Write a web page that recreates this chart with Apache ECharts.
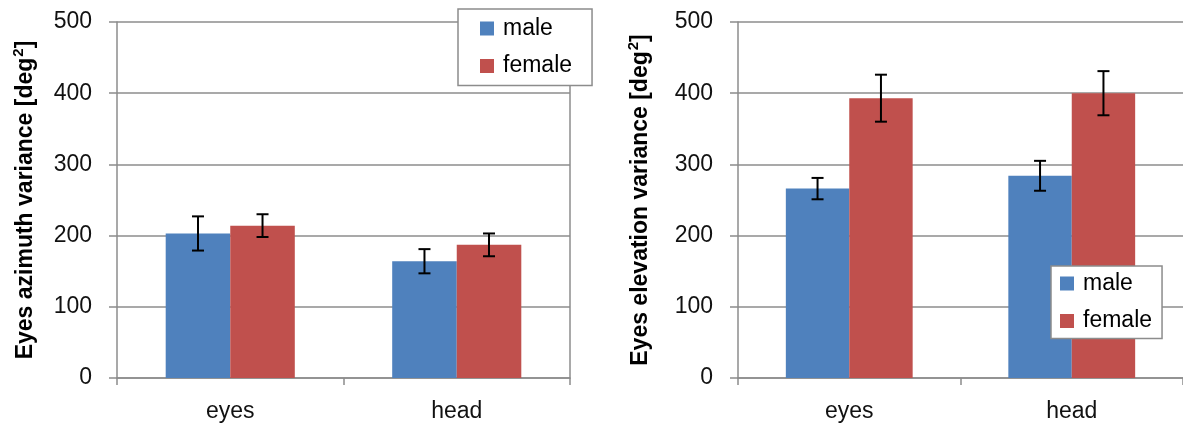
<!DOCTYPE html>
<html>
<head>
<meta charset="utf-8">
<script src="https://cdn.jsdelivr.net/npm/echarts@6/dist/echarts.min.js"></script>
<style>
  html, body { margin: 0; padding: 0; background: #fff; }
  #chart { width: 1183px; height: 427px; }
</style>
</head>
<body>
<div id="chart"></div>
<script>
// Categories and tick range shared by both panels
const categories = ['eyes', 'head'];
const yMin = 0, yMax = 500, yStep = 100;

// Azimuth variance (deg²), mean and error half-width
const azimuthMale = [203, 164];
const azimuthMaleErr = [24, 17];
const azimuthFemale = [214, 187];
const azimuthFemaleErr = [16, 16];

// Elevation variance (deg²), mean and error half-width
const elevationMale = [266, 284];
const elevationMaleErr = [15, 21];
const elevationFemale = [393, 400];
const elevationFemaleErr = [33, 31];

// Axis titles, with the unit's exponent set as a superscript
const leftTitle = '{t|Eyes azimuth variance [deg}{sup|2}{t|]}';
const rightTitle = '{t|Eyes elevation variance [deg}{sup|2}{t|]}';

const BLUE = '#4F81BD';
const RED = '#C0504D';
const GRID_GRAY = '#8c8c8c';
const FONT = '"Liberation Sans", Arial, sans-serif';
const CAT_GAP = 0.43;

const chart = echarts.init(document.getElementById('chart'), null, { renderer: 'canvas' });

function yAxisFor(gridIndex, title, gap) {
  return {
    type: 'value', gridIndex, min: yMin, max: yMax, interval: yStep,
    name: title, nameLocation: 'middle', nameRotate: 90, nameGap: gap,
    nameTextStyle: {
      fontFamily: FONT, fontSize: 23, fontWeight: 'bold', color: '#000',
      rich: {
        t: { fontFamily: FONT, fontSize: 23, fontWeight: 'bold', color: '#000', lineHeight: 26, verticalAlign: 'bottom' },
        sup: { fontFamily: FONT, fontSize: 15, fontWeight: 'bold', color: '#000', lineHeight: 26, verticalAlign: 'top', padding: [0, 0, 0, 1] }
      }
    },
    axisLine: { show: true, lineStyle: { color: GRID_GRAY, width: 1.5 } },
    axisTick: { show: true, length: 8, lineStyle: { color: GRID_GRAY, width: 1.5 } },
    axisLabel: { margin: 25, fontFamily: FONT, fontSize: 23, color: '#111' },
    splitLine: { show: true, lineStyle: { color: GRID_GRAY, width: 1.5 } }
  };
}

function xAxisFor(gridIndex) {
  return {
    type: 'category', gridIndex, data: categories, boundaryGap: true,
    axisLine: { show: true, lineStyle: { color: GRID_GRAY, width: 1.5 } },
    axisTick: { show: true, length: 7, alignWithLabel: false, lineStyle: { color: GRID_GRAY, width: 1.5 } },
    axisLabel: { margin: 22, fontFamily: FONT, fontSize: 23, color: '#111' }
  };
}

// Error bars drawn at the centre of each bar of a two-bar group
function errorSeries(name, axisIdx, means, errs, side) {
  return {
    type: 'custom', name, xAxisIndex: axisIdx, yAxisIndex: axisIdx, z: 10,
    data: means.map((m, i) => [i, m, errs[i]]),
    renderItem(params, api) {
      const band = api.size([1, 0])[0];
      const barW = band * (1 - CAT_GAP) / 2;
      const c = api.coord([api.value(0), api.value(1)]);
      const x = c[0] + side * barW / 2;
      const top = api.coord([api.value(0), api.value(1) + api.value(2)])[1];
      const bot = api.coord([api.value(0), api.value(1) - api.value(2)])[1];
      const cap = 6;
      const style = { stroke: '#000', lineWidth: 2, fill: null };
      return {
        type: 'group',
        children: [
          { type: 'line', shape: { x1: x, y1: top, x2: x, y2: bot }, style },
          { type: 'line', shape: { x1: x - cap, y1: top, x2: x + cap, y2: top }, style },
          { type: 'line', shape: { x1: x - cap, y1: bot, x2: x + cap, y2: bot }, style }
        ]
      };
    }
  };
}

function barSeries(name, axisIdx, values, color) {
  return {
    type: 'bar', name, xAxisIndex: axisIdx, yAxisIndex: axisIdx,
    data: values, barGap: '0%', barCategoryGap: (CAT_GAP * 100) + '%',
    itemStyle: { color }
  };
}

function legendAt(left, top, padding) {
  return {
    orient: 'vertical', left, top, padding,
    itemWidth: 14, itemHeight: 14, itemGap: 14.5,
    icon: 'rect',
    backgroundColor: '#fff', borderColor: GRID_GRAY, borderWidth: 1.5, borderRadius: 0,
    textStyle: { fontFamily: FONT, fontSize: 23, lineHeight: 23, color: '#000', padding: [0, 0, 0, 4] },
    data: [
      { name: 'male', itemStyle: { color: BLUE } },
      { name: 'female', itemStyle: { color: RED } }
    ],
    selectedMode: false,
    z: 20
  };
}

const option = {
  animation: false,
  backgroundColor: '#fff',
  grid: [
    { left: 117, top: 22, width: 453, height: 356 },
    { left: 738, top: 22, width: 447, height: 356 }
  ],
  xAxis: [xAxisFor(0), xAxisFor(1)],
  yAxis: [
    yAxisFor(0, leftTitle, 80),
    yAxisFor(1, rightTitle, 86),
    // right-hand border of the azimuth panel
    {
      type: 'value', gridIndex: 0, position: 'right', min: yMin, max: yMax, interval: yStep,
      axisLine: { show: true, lineStyle: { color: GRID_GRAY, width: 1.5 } },
      axisTick: { show: false }, axisLabel: { show: false }, splitLine: { show: false }
    }
  ],
  legend: [
    legendAt(458, 9, [8, 20, 8, 22]),
    legendAt(1051, 266, [6, 10, 6, 9])
  ],
  series: [
    barSeries('male', 0, azimuthMale, BLUE),
    barSeries('female', 0, azimuthFemale, RED),
    barSeries('male', 1, elevationMale, BLUE),
    barSeries('female', 1, elevationFemale, RED),
    errorSeries('male', 0, azimuthMale, azimuthMaleErr, -1),
    errorSeries('female', 0, azimuthFemale, azimuthFemaleErr, 1),
    errorSeries('male', 1, elevationMale, elevationMaleErr, -1),
    errorSeries('female', 1, elevationFemale, elevationFemaleErr, 1)
  ]
};

chart.setOption(option);
</script>
</body>
</html>
